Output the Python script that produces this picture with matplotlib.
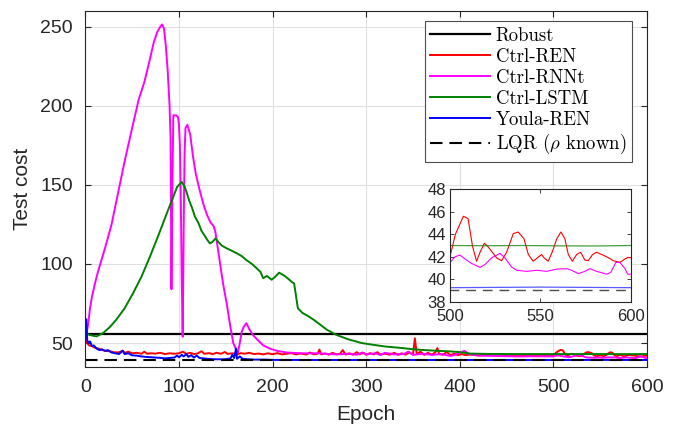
import numpy as np
import matplotlib
matplotlib.use('Agg')
import matplotlib.pyplot as plt

plt.rcParams['font.family'] = ['Liberation Sans', 'DejaVu Sans']
plt.rcParams['mathtext.fontset'] = 'cm'
plt.rcParams['lines.scale_dashes'] = False

# ---- data ----
robust_val = 56.0
lqr_val = 39.0

# Ctrl-REN (red)
ren_ep = [0, 2, 4, 7, 10, 14, 18, 22, 26, 30, 35, 40, 42, 46, 50, 55, 60, 63, 66, 70, 75, 80, 85, 90, 95,
          100, 104, 108, 112, 116, 120, 124, 127, 132, 136, 140, 145, 149, 152, 157, 162, 166, 170, 175, 180,
          185, 190, 195, 200, 205, 210, 215, 220, 225, 230, 236, 240, 244, 248, 250, 252, 256, 260, 264, 268,
          272, 275, 278, 282, 286, 290, 293, 297, 300, 304, 308, 312, 315, 320, 325, 330, 334, 338, 342, 346,
          350, 352, 354, 358, 362, 366, 370, 374, 376, 378, 382, 386, 390, 394, 398, 402, 406, 410, 420, 430,
          440, 450, 460, 470, 480, 490,
          500, 503, 507.4, 510, 512.5, 514.7, 516.6, 519, 521, 525.8, 528.5, 531.3, 535, 537.7, 540.9, 543.3,
          546, 548.3, 550.6, 552, 554.3, 556.7, 559, 561.3, 563.5, 565.4, 567.6, 570, 572.2, 574.6, 576.4,
          578.8, 581, 583.8, 586.6, 590.2, 593.9, 596.7, 598.5, 600]
ren_val = [56, 50, 48.5, 48, 47, 46.5, 45.5, 45, 44.8, 44.2, 44, 45, 43.8, 44.5, 43.5, 43.8, 43.2, 44.5, 43.2,
           43.5, 43.3, 43.8, 43.0, 43.5, 43.2,
           43.5, 44.5, 43.2, 43.8, 43.0, 43.4, 44.8, 43.2, 43.6, 43.0, 43.8, 43.2, 44.3, 43.1, 43.5, 42.8, 43.6,
           43.2, 43.8, 43.0,
           43.3, 42.8, 43.5, 42.9, 43.6, 42.8, 43.2, 43.6, 42.8, 43.4, 42.7, 44.0, 42.8, 43.2, 45.8, 42.8, 43.4,
           42.6, 43.8, 42.8,
           43.2, 45.5, 42.7, 43.5, 42.6, 44.2, 42.8, 43.8, 42.6, 43.6, 42.8, 44.2, 42.7, 43.3, 42.6, 43.8, 42.5,
           43.5, 42.6, 44.0,
           42.8, 53.0, 43.0, 44.5, 42.5, 43.8, 42.6, 44.2, 46.8, 43.0, 42.6, 44.3, 42.4, 43.2, 42.3, 43.0, 42.3,
           42.7, 42.2, 42.5,
           42.0, 42.3, 42.0, 42.4, 41.9, 42.3,
           42.0, 44.0, 45.6, 45.4, 42.9, 41.6, 42.4, 43.2, 42.9, 41.9, 41.65, 42.4, 44.06, 44.2, 43.6, 42.2,
           41.6, 41.9, 42.2, 41.9, 41.6, 42.5, 43.6, 44.2, 43.6, 42.2, 41.6, 42.2, 42.4, 41.7, 41.65,
           42.2, 42.4, 42.2, 42.0, 41.65, 41.5, 41.8, 41.95, 41.9]

# Ctrl-RNNt (magenta)
rnn_ep = [1, 3, 5, 7, 10, 13, 17, 22, 28, 35, 42, 50, 57, 63, 68, 73, 77, 80, 82, 84, 86, 88, 90, 91, 92, 93,
          94, 97, 99, 100, 101, 102, 103, 104, 105, 106, 107, 109, 112, 115, 118, 122, 126, 130, 134, 137, 139,
          141, 144, 147, 151, 155, 158, 161, 163, 165, 167, 169, 172, 175, 179, 184, 190, 197, 205, 215, 230,
          250, 260, 270, 280, 290, 296, 300, 310, 315, 320, 330, 340, 345, 350, 360, 370, 380, 390, 395, 400,
          405, 410, 420, 440, 460, 480,
          500, 502.8, 505.5, 508.3, 512, 516.6, 519.3, 523, 527.6, 530.4, 534, 536.8, 542.4, 547.9, 553.4, 559,
          564.5, 567.2, 570.9, 574.6, 577.3, 581, 586.6, 588.8, 591.7, 593.9, 596.7, 598.2, 600]
rnn_val = [55, 62, 72, 79, 87, 94, 102, 112, 125, 145, 165, 186, 204, 215, 227, 240, 247, 250, 251.5, 249, 238,
           222, 200, 180, 84, 150,
           194, 194, 193, 188, 175, 140, 90, 54, 120, 170, 186, 188, 182, 168, 157, 147, 138, 131, 126, 124, 120,
           112, 100, 88, 75, 60, 50, 46, 44, 50, 57, 60, 62.5, 59, 55, 52, 48.5, 46.5, 45, 44, 43.5,
           43.5, 43, 42.8, 43.2, 42.6, 44, 42.8, 43.5, 42.4, 43.8, 42.8, 43, 44.5, 42.5, 43.2, 42.5, 43, 41.8,
           42.5, 44,
           45, 43, 42, 41.8, 41.5, 41.6,
           41.5, 42.0, 42.15, 41.8, 41.4, 41.06, 41.3, 41.9, 42.3, 41.9, 41.1, 40.8, 40.7, 40.8, 40.7, 40.9,
           40.94, 40.8, 40.5, 40.7, 40.94, 40.7, 40.45, 40.6, 41.5, 41.5, 40.94, 40.45, 40.45]

# Ctrl-LSTM (green)
lstm_ep = [0, 5, 12, 19, 26, 33, 42, 51, 60, 69, 78, 87, 93, 98, 103, 106, 108, 111, 114, 117, 121, 124, 127,
           130, 133, 136, 139, 142, 146, 151, 156, 162, 167, 172, 178, 183, 187, 190, 194, 199, 203, 207, 213,
           218, 220, 223, 225, 227, 232, 238, 244, 250, 258, 268, 280, 295, 307, 320, 335, 348, 360, 375, 390,
           400, 411, 430, 460, 500, 520, 540, 560, 580, 600]
lstm_val = [56.3, 55, 54.2, 56.3, 60, 64.7, 72, 81.5, 92, 104.6, 118, 132, 141, 148.7, 151.9, 149, 145.6, 140,
            135.5, 130, 125.7, 121, 118.3,
            115.5, 113, 114, 116.2, 114, 111.5, 109.9, 108.5, 106.7, 105, 102.5, 100, 97.3, 95, 91, 92.4, 90, 92,
            94.5, 92.4,
            90, 88.8, 87.7, 80, 72, 69, 67, 64.7, 62, 58.4, 55.2, 52.5, 50, 48.9, 47.8, 47, 46.2, 45.6, 45.1, 44.7,
            44.2, 43.3, 43.1, 43.0, 43.0, 42.98, 43.0, 42.97, 42.96, 43.0]

# Youla-REN (blue)
youla_ep = [0, 1, 2, 3, 5, 7, 9, 12, 15, 18, 21, 24, 28, 32, 36, 40, 42, 46, 50, 55, 60, 65, 70, 75, 80, 85,
            90, 95, 98, 100, 103, 105, 108, 110, 113, 116, 119, 122, 126, 130, 135, 140, 145, 150, 155, 157,
            159, 161, 162, 165, 168, 172, 180, 190, 200, 250, 300, 400, 500, 550, 600]
youla_val = [62, 65, 52, 50, 51, 48, 48.5, 46.5, 45.5, 46, 45, 45.5, 44, 43.5, 43, 45.2, 43, 43.5, 42.2, 42,
             41.5, 41.2, 41.0, 40.8, 40.6, 40.3,
             40.5, 40.8, 42, 41, 42.5, 41.5, 43, 41.2, 42.3, 40.8, 42, 40.5, 40.3, 40, 39.8, 39.7, 39.7, 39.8,
             40.2, 42.5,
             40.5, 46.5, 40, 41.5, 40, 39.8, 39.5, 39.5, 39.3, 39.25, 39.25, 39.25, 39.25, 39.3, 39.25]

x_range = [0, 600]
green = (0, 0.5, 0)
magenta = '#ff00ff'

fig = plt.figure(figsize=(6.73, 4.24), dpi=100)
ax = fig.add_axes([0.1268, 0.1351, 0.8346, 0.8389])

ax.plot(x_range, [robust_val, robust_val], color='k', lw=1.6, label='Robust')
ax.plot(ren_ep, ren_val, color='r', lw=1.4, label='Ctrl-REN')
ax.plot(rnn_ep, rnn_val, color=magenta, lw=1.4, label='Ctrl-RNNt')
ax.plot(lstm_ep, lstm_val, color=green, lw=1.4, label='Ctrl-LSTM')
ax.plot(youla_ep, youla_val, color='b', lw=1.4, label='Youla-REN')
ax.plot(x_range, [lqr_val, lqr_val], color='k', lw=1.5, dashes=(9, 5), label=r'LQR ($\rho$ known)')

ax.set_xlim(0, 600)
ax.set_ylim(35, 260)
ax.set_xticks(np.arange(0, 601, 100))
ax.set_yticks([50, 100, 150, 200, 250])
ax.grid(True, color='0.88', lw=0.8)
ax.set_axisbelow(True)
ax.tick_params(direction='in', length=4, top=True, right=True, labelsize=14, pad=9,
               colors='0.15', width=0.8)
for s in ax.spines.values():
    s.set_color('0.15')
    s.set_linewidth(0.8)
ax.set_xlabel('Epoch', fontsize=15, color='0.15', labelpad=6)
ax.set_ylabel('Test cost', fontsize=15, color='0.15', labelpad=6)

leg = ax.legend(loc='upper right', bbox_to_anchor=(0.9733, 0.9719), borderaxespad=0,
                prop={'family': 'cmr10', 'size': 13.5}, fancybox=False, framealpha=1,
                edgecolor='0.3', handlelength=3.2, handletextpad=0.3, labelspacing=0.17,
                borderpad=0.3)
leg.get_frame().set_linewidth(0.8)

# inset zoom on the last 100 epochs
axi = fig.add_axes([0.6686, 0.2884, 0.2689, 0.2651])
axi.plot(ren_ep, ren_val, color='r', lw=0.8)
axi.plot(rnn_ep, rnn_val, color=magenta, lw=0.8)
axi.plot(lstm_ep, lstm_val, color=green, lw=0.9, alpha=0.75)
axi.plot(youla_ep, youla_val, color='b', lw=0.9, alpha=0.65)
axi.plot(x_range, [lqr_val, lqr_val], color='0.3', lw=1.0, dashes=(7, 5))
axi.set_xlim(500, 600)
axi.set_ylim(38, 48)
axi.set_xticks([500, 550, 600])
axi.set_yticks([38, 40, 42, 44, 46, 48])
axi.tick_params(direction='in', length=3, top=True, right=True, labelsize=12, pad=3,
                colors='0.15', width=0.6)
axi.tick_params(axis='x', pad=5)
for s in axi.spines.values():
    s.set_color('0.15')
    s.set_linewidth(0.8)

fig.savefig('out.png', dpi=100)
